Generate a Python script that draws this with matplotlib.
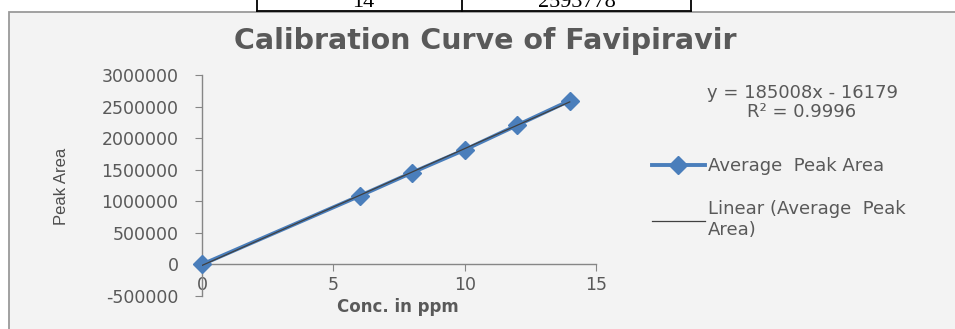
import matplotlib.pyplot as plt
from matplotlib.patches import Rectangle
from matplotlib.lines import Line2D
import numpy as np

# data (14 ppm value taken from the table above it)
conc = [0, 6, 8, 10, 12, 14]
peak_area = [0, 1085000, 1455000, 1815000, 2205000, 2593778]
slope, intercept = 185008, -16179
eq_text = 'y = 185008x - 16179'
r2_text = 'R² = 0.9996'
table_row = ['14', '2593778']

W, H = 955, 329
fig = plt.figure(figsize=(W / 100, H / 100), dpi=100)
fig.patch.set_facecolor('white')

def fx(px):
    return px / W

def fy(py):
    return 1 - py / H

# grey chart area frame
fig.patches.append(Rectangle((fx(9), fy(H + 5)), fx(W), fy(12) - fy(H + 5),
                             transform=fig.transFigure, facecolor='#f3f3f3',
                             edgecolor='#9a9a9a', linewidth=1.3, zorder=-5))

# piece of the table above the chart
for xp in [257, 462, 691]:
    fig.add_artist(Line2D([fx(xp), fx(xp)], [fy(0), fy(11)], color='black', lw=1.3))
fig.add_artist(Line2D([fx(257), fx(691)], [fy(11), fy(11)], color='black', lw=1.3))
fig.text(fx(363), fy(7), table_row[0], ha='center', va='baseline',
         family='Liberation Serif', fontsize=16, color='black')
fig.text(fx(577), fy(7), table_row[1], ha='center', va='baseline',
         family='Liberation Serif', fontsize=16, color='black')

ax = fig.add_axes([fx(202), fy(296), fx(596) - fx(202), fy(75) - fy(296)])
ax.patch.set_visible(False)

blue = '#4a7ebb'
txt = '#595959'
axc = '#868686'

ax.plot(conc, peak_area, color=blue, lw=2.8, marker='D', markersize=9,
        markeredgecolor=blue, clip_on=False, zorder=3, label='Average  Peak Area')
xfit = np.array([conc[0], conc[-1]])
ax.plot(xfit, slope * xfit + intercept, color='#404040', lw=0.9, zorder=4,
        label='Linear (Average  Peak\nArea)')

ax.set_xlim(0, 15)
ax.set_ylim(-500000, 3000000)
ax.set_xticks([0, 5, 10, 15])
ax.set_yticks(np.arange(-500000, 3000001, 500000))
ax.set_yticklabels([str(v) for v in range(-500000, 3000001, 500000)])

ax.spines['top'].set_visible(False)
ax.spines['right'].set_visible(False)
ax.spines['bottom'].set_position(('data', 0))
for s in ['left', 'bottom']:
    ax.spines[s].set_color(axc)
    ax.spines[s].set_linewidth(1.0)
ax.tick_params(axis='both', colors=axc, labelcolor=txt, labelsize=12.5,
               length=5, direction='out')
ax.tick_params(axis='y', pad=12)
ax.tick_params(axis='x', pad=3)

fig.text(fx(485), fy(41), 'Calibration Curve of Favipiravir', ha='center',
         va='center', fontsize=20.5, fontweight='bold', color=txt)
fig.text(fx(61), fy(186), 'Peak Area', rotation=90, ha='center', va='center',
         fontsize=12, color='#4d4d4d', family='Liberation Sans')
fig.text(fx(398), fy(307), 'Conc. in ppm', ha='center', va='center',
         fontsize=12, fontweight='bold', color=txt)

fig.text(fx(802), fy(93), eq_text, ha='center', va='center', fontsize=13, color=txt)
fig.text(fx(802), fy(112), r2_text, ha='center', va='center', fontsize=13, color=txt)

leg = ax.legend(loc='upper left', bbox_to_anchor=(fx(645), fy(150)),
                bbox_transform=fig.transFigure, frameon=False, fontsize=13,
                handlelength=2.9, handletextpad=0.2, labelspacing=1.4,
                labelcolor=txt, borderaxespad=0)

fig.savefig('out.png', dpi=100)
